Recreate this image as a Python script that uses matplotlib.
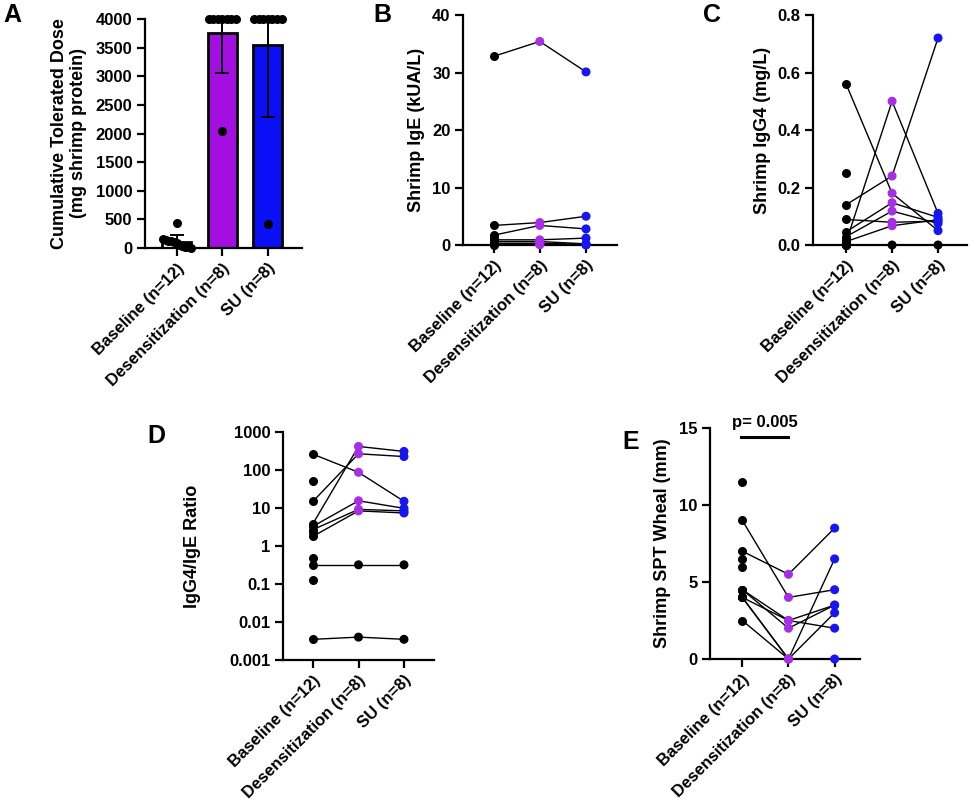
import numpy as np
import matplotlib
matplotlib.use("Agg")
import matplotlib.pyplot as plt
from matplotlib.ticker import FixedLocator, NullLocator

plt.rcParams["font.family"] = ["Liberation Sans", "DejaVu Sans"]
plt.rcParams["font.weight"] = "bold"

groups = ["Baseline (n=12)", "Desensitization (n=8)", "SU (n=8)"]

# panel A: cumulative tolerated dose (mg shrimp protein)
dose_base = [440, 150, 145, 130, 120, 100, 80, 60, 40, 20, 10, 0]
dose_des = [4000, 4000, 4000, 4000, 4000, 4000, 4000, 2040]
dose_su = [4000, 4000, 4000, 4000, 4000, 4000, 4000, 420]

# panel B: shrimp IgE (kUA/L), paired patients + baseline-only
ige_base = [32.8, 3.4, 1.7, 0.9, 0.6, 0.3, 0.1, 0.05]
ige_des = [35.4, 3.9, 3.4, 0.9, 0.6, 0.3, 0.1, 0.05]
ige_su = [30.1, 5.0, 2.8, 1.2, 0.2, 0.1, 0.05, 0.0]
ige_extra = [1.3, 0.8, 0.4, 0.2]

# panel C: shrimp IgG4 (mg/L)
g4_base = [0.56, 0.01, 0.14, 0.089, 0.046, 0.029, 0.012, 0.0]
g4_des = [0.18, 0.50, 0.24, 0.079, 0.147, 0.118, 0.067, 0.0]
g4_su = [0.05, 0.11, 0.72, 0.083, 0.096, 0.075, 0.088, 0.0]
g4_extra = [0.25, 0.02, 0.0, 0.0]
g4_black = [7]

# panel D: IgG4/IgE ratio
r_base = [260, 15, 3.9, 3.3, 2.7, 1.8, 0.32, 0.0035]
r_des = [87, 267, 417, 15.5, 9.2, 8.4, 0.32, 0.004]
r_su = [15, 226, 308, 9.8, 8.4, 7.4, 0.32, 0.0035]
r_extra = [52, 0.48, 0.13, 2.4]
r_black = [6, 7]

# panel E: shrimp SPT wheal (mm)
w_base = [7.0, 9.0, 4.5, 4.5, 4.0, 4.0, 2.5, 4.0]
w_des = [5.5, 4.0, 2.5, 2.0, 2.5, 0.0, 0.0, 0.0]
w_su = [8.5, 4.5, 2.0, 3.5, 3.5, 6.5, 3.0, 0.0]
w_extra = [11.5, 6.5, 6.0, 4.5]

PURPLE_BAR = "#A20FE0"
BLUE_BAR = "#0A10F5"
PURPLE = "#A82DE6"
BLUE = "#1616F0"
dot_colors = ["black", PURPLE, BLUE]

W, H = 972, 810
fig = plt.figure(figsize=(W / 100, H / 100), dpi=100)


def add_axes(left, right, top, bottom):
    return fig.add_axes([left / W, 1 - bottom / H, (right - left) / W, (bottom - top) / H])


def style(ax, xlim):
    for s in ["top", "right"]:
        ax.spines[s].set_visible(False)
    for s in ["left", "bottom"]:
        ax.spines[s].set_linewidth(1.6)
    ax.tick_params(direction="out", length=5.5, width=1.6, labelsize=12, colors="black")
    ax.set_xlim(*xlim)
    ax.set_xticks(range(3))
    ax.set_xticklabels(groups, rotation=45, ha="right", va="top",
                       rotation_mode="anchor", fontweight="bold")
    for lab in ax.get_yticklabels():
        lab.set_fontweight("bold")


def spread(vals, binsize, maxw, step):
    vals = np.asarray(vals, dtype=float)
    off = np.zeros(len(vals))
    bins = np.floor(vals / binsize)
    for b in np.unique(bins):
        idx = np.where(bins == b)[0]
        n = len(idx)
        if n > 1:
            st = min(step, maxw / (n - 1))
            off[idx] = (np.arange(n) - (n - 1) / 2) * st
    return off


# ---- A ----
axA = add_axes(145, 302, 19, 248)
dose = [dose_base, dose_des, dose_su]
means = [np.mean(d) for d in dose]
sds = [np.std(d, ddof=1) for d in dose]
axA.bar(range(3), means, width=0.64, color=["white", PURPLE_BAR, BLUE_BAR],
        edgecolor="black", linewidth=2, zorder=2)
axA.errorbar(range(3), means, yerr=sds, fmt="none", ecolor="black",
             elinewidth=1.4, capsize=5, capthick=1.4, zorder=3)
for i, d in enumerate(dose):
    off = spread(d, 250, 0.62, 0.1)
    axA.scatter(i + off, d, s=30, color="black", zorder=4, clip_on=False)
axA.set_ylim(0, 4000)
axA.set_yticks(np.arange(0, 4001, 500))
axA.set_ylabel("Cumulative Tolerated Dose\n(mg shrimp protein)", fontsize=13,
               fontweight="bold", labelpad=6)
style(axA, (-0.7, 2.75))


def paired(ax, base, des, su, extra, black=()):
    for k in range(len(base)):
        ax.plot(range(3), [base[k], des[k], su[k]], color="black", lw=1.0, zorder=2)
    ax.scatter(np.zeros(len(base) + len(extra)), list(base) + list(extra),
               s=30, color="black", zorder=4, clip_on=False)
    for j, series in enumerate([des, su], start=1):
        cols = ["black" if k in black else dot_colors[j] for k in range(len(series))]
        ax.scatter(np.full(len(series), j), series, s=30, c=cols, zorder=4, clip_on=False)


# ---- B ----
axB = add_axes(463, 617, 15, 245)
paired(axB, ige_base, ige_des, ige_su, ige_extra)
axB.set_ylim(0, 40)
axB.set_yticks([0, 10, 20, 30, 40])
axB.set_ylabel("Shrimp IgE (kUA/L)", fontsize=13, fontweight="bold", labelpad=5)
style(axB, (-0.66, 2.67))

# ---- C ----
axC = add_axes(813, 967, 15, 245)
paired(axC, g4_base, g4_des, g4_su, g4_extra, g4_black)
axC.set_ylim(0, 0.8)
axC.set_yticks([0, 0.2, 0.4, 0.6, 0.8])
axC.set_yticklabels(["0.0", "0.2", "0.4", "0.6", "0.8"])
axC.set_ylabel("Shrimp IgG4 (mg/L)", fontsize=13, fontweight="bold", labelpad=5)
style(axC, (-0.72, 2.63))

# ---- D ----
axD = add_axes(283, 434, 432, 660)
paired(axD, r_base, r_des, r_su, r_extra, r_black)
axD.set_yscale("log")
axD.set_ylim(0.001, 1000)
dt = [0.001, 0.01, 0.1, 1, 10, 100, 1000]
axD.yaxis.set_major_locator(FixedLocator(dt))
axD.yaxis.set_minor_locator(NullLocator())
axD.set_yticklabels(["0.001", "0.01", "0.1", "1", "10", "100", "1000"])
axD.set_ylabel("IgG4/IgE Ratio", fontsize=13, fontweight="bold", labelpad=20)
style(axD, (-0.66, 2.66))

# ---- E ----
axE = add_axes(710, 860, 428, 659)
paired(axE, w_base, w_des, w_su, w_extra)
axE.set_ylim(0, 15)
axE.set_yticks([0, 5, 10, 15])
axE.set_ylabel("Shrimp SPT Wheal (mm)", fontsize=13, fontweight="bold", labelpad=6)
style(axE, (-0.7, 2.55))
axE.plot([-0.02, 0.98], [14.4, 14.4], color="black", lw=2.2, clip_on=False)
axE.text(0.48, 14.9, "p= 0.005", ha="center", va="bottom", fontsize=12,
         fontweight="bold", clip_on=False)

# panel letters
for letter, (px, py) in {"A": (3, 3), "B": (373, 3), "C": (703, 3),
                         "D": (147, 424), "E": (622, 430)}.items():
    fig.text(px / W, 1 - py / H, letter, fontsize=18, fontweight="bold",
             ha="left", va="top")

fig.savefig("out.png", dpi=100, facecolor="white")
